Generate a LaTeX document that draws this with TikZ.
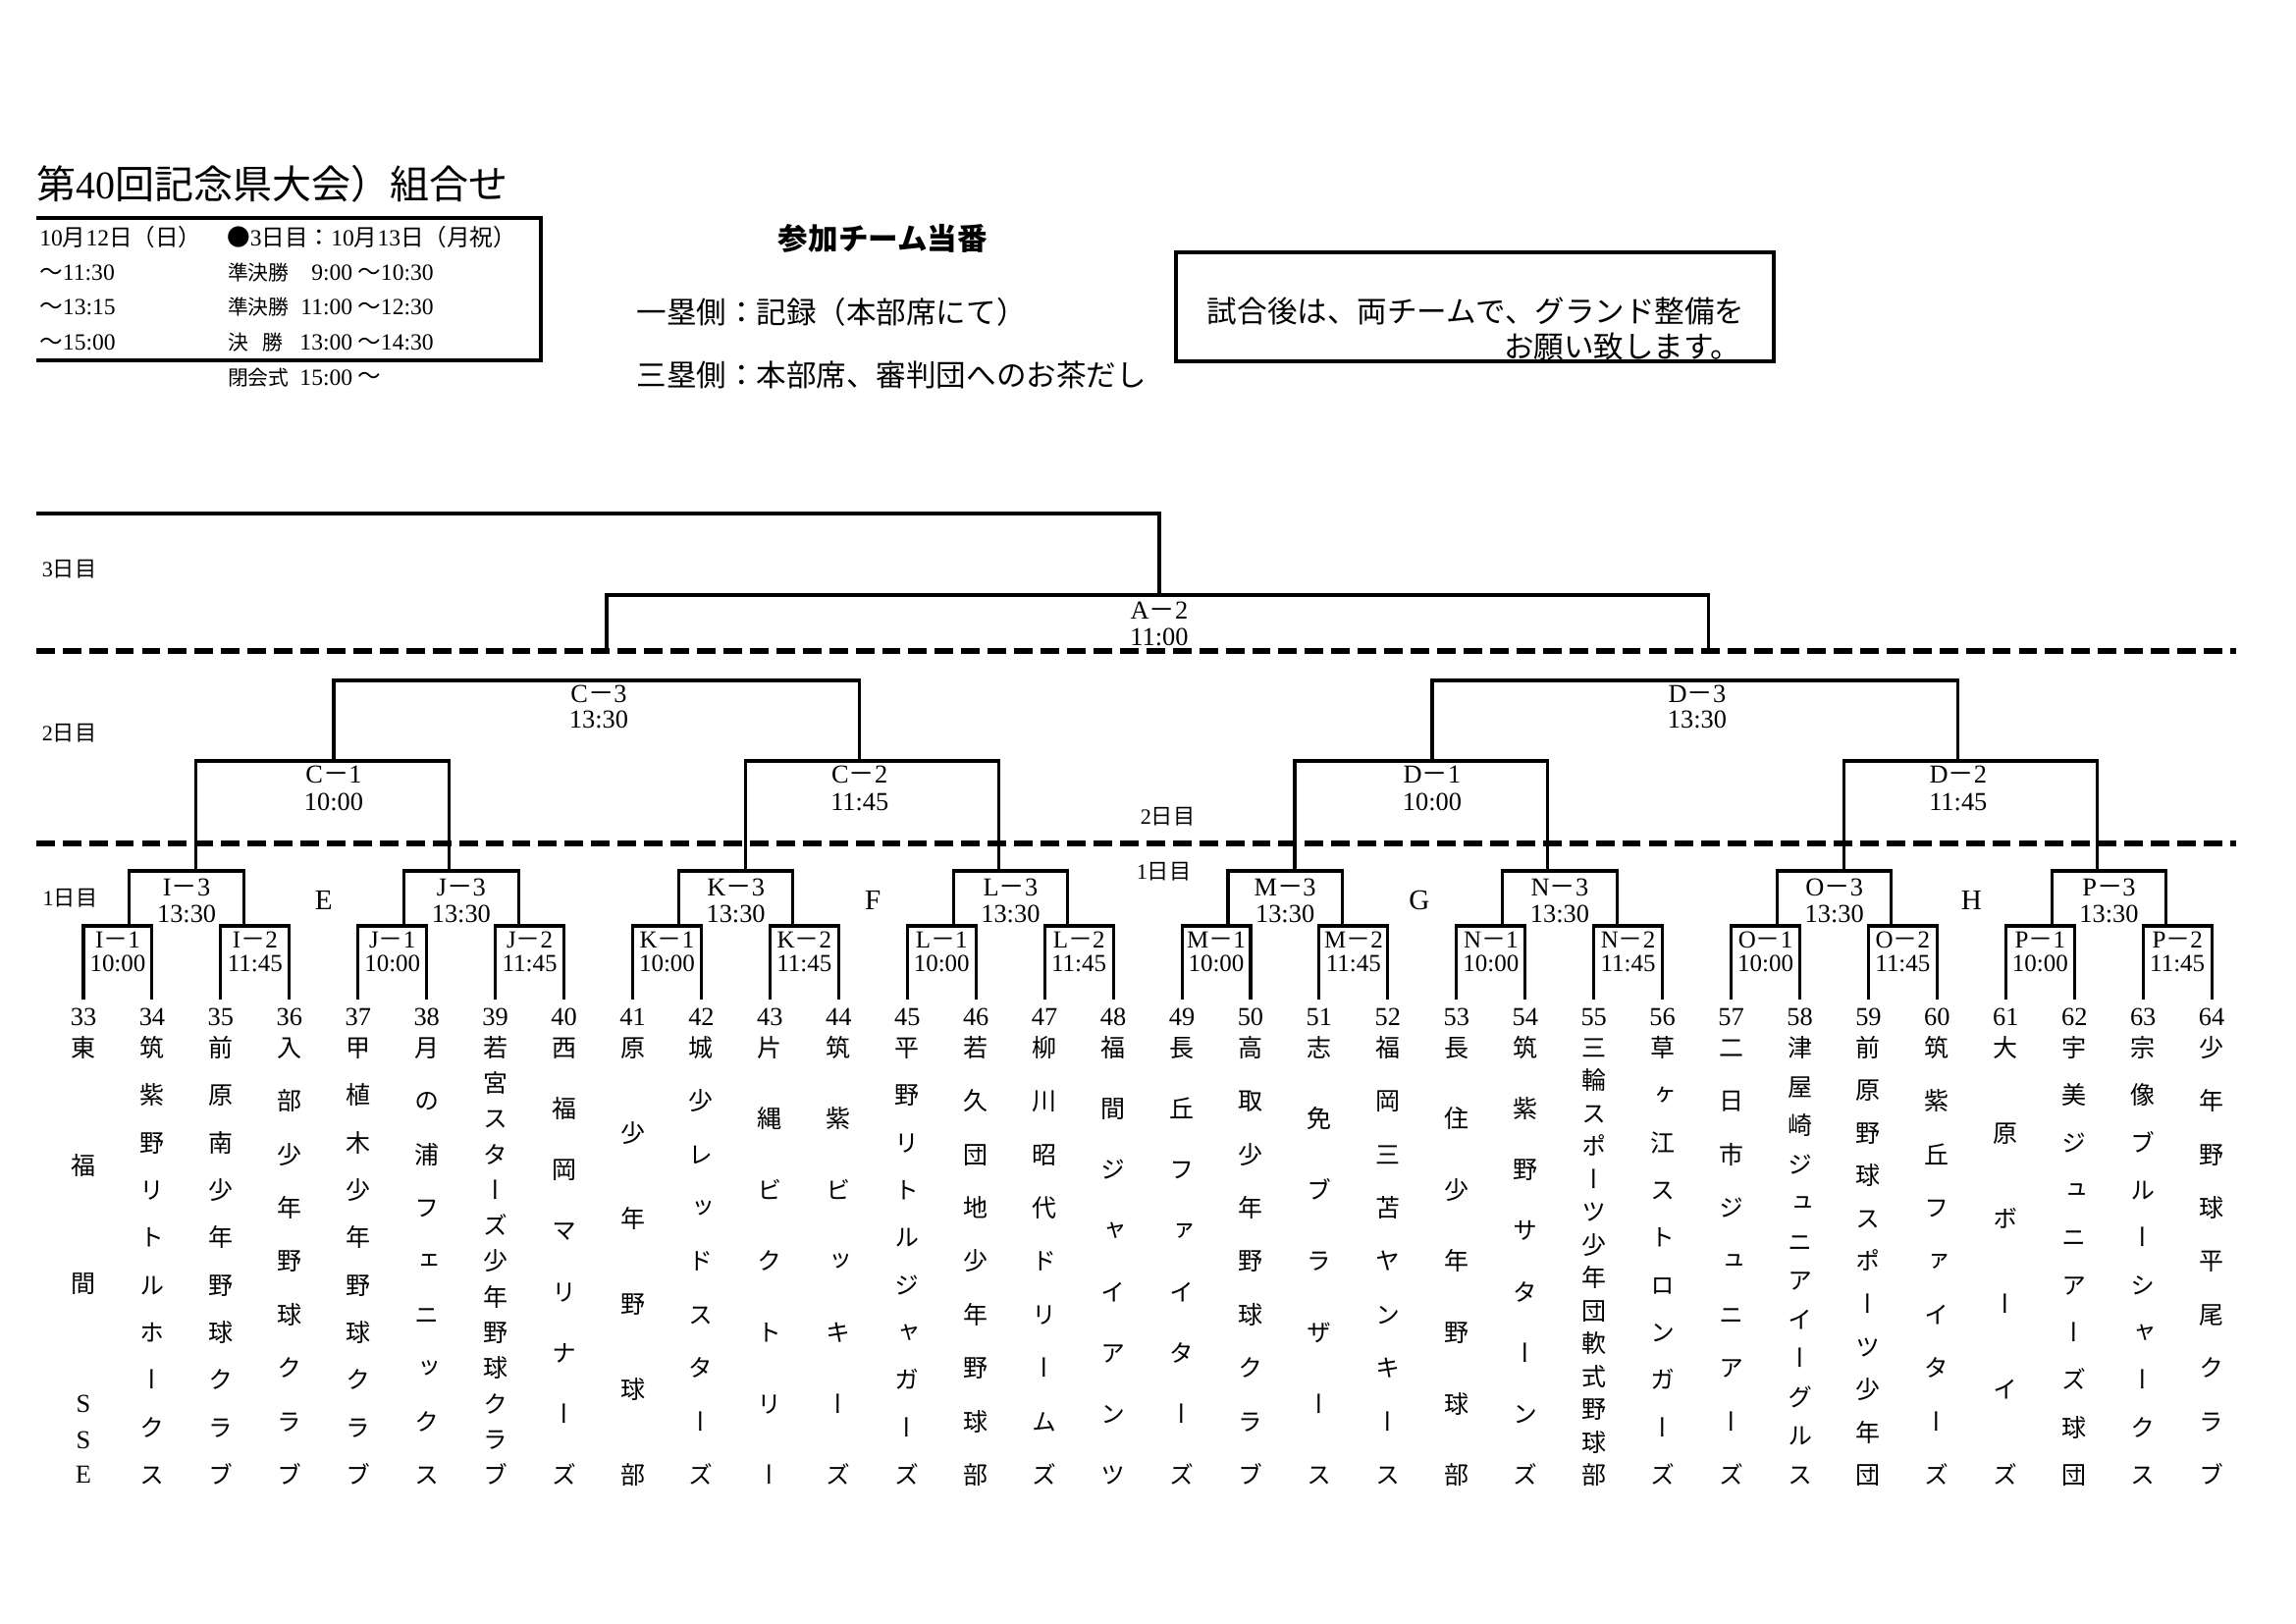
\documentclass[tikz,border=0pt]{standalone}
\usepackage{fontspec}
\setmainfont{Liberation Serif}
\newfontfamily\jp{Noto Sans CJK JP}
\newfontfamily\jpv[RawFeature=+vert]{Noto Sans CJK JP}
\newcommand\fs[1]{\fontsize{#1}{#1}\selectfont}
\newcommand\dash{{\jp －}}
\newcommand\teamname[3]{%
  \foreach \ch [count=\k from 0] in {#3} {
    \node[tchar] (n#1-\k) at ({85+69.94*(#1-33)}, {1067+435*\k/(#2-1)}) {\ch};
  }}
\begin{document}
\begin{tikzpicture}[x=0.3602pt,y=-0.3602pt,
  br/.style={line width=1.1pt},
  sep/.style={line width=1.9pt, dash pattern=on 6.8pt off 2.9pt},
  frame/.style={line width=1.5pt},
  lbl/.style={font=\fs{9.5}, inner sep=0pt},
  rlbl/.style={font=\fs{9}, inner sep=0pt},
  tnum/.style={font=\fs{9.5}, inner sep=0pt},
  dayl/.style={font=\fs{8}, inner sep=0pt},
  grp/.style={font=\fs{10.5}, inner sep=0pt},
  hdr/.style={font=\fs{8.5}, inner sep=0pt},
  hdrs/.style={font=\jp\fs{7.5}, inner sep=0pt},
  mid/.style={font=\jp\fs{11}, inner sep=0pt},
  tchar/.style={font=\jpv\fs{9}, inner sep=0pt, text height=7.92pt, text depth=1.08pt},
  lchar/.style={font=\fs{9.5}, inner sep=0pt}]
\useasboundingbox (0,0) rectangle (2339,1654);
\fill[white] (0,0) rectangle (2339,1654);

% ---------- header ----------
\node[anchor=west, font=\fs{14.4}, inner sep=0pt] (title) at (36.8,187) {{\jp 第}40{\jp 回記念県大会）組合せ}};
\draw[frame] (36.8,222) -- (550.6,222) -- (550.6,367) -- (36.8,367);
\node[hdr, anchor=west] (d1) at (39.8,242) {10{\jp 月}12{\jp 日（日）}};
\node[hdr, anchor=west] (d3) at (230.6,242) {{\jp ●}3{\jp 日目：}10{\jp 月}13{\jp 日（月祝）}};
\node[hdr, anchor=west] (e1) at (39.8,278) {{\jp ～}11:30};
\node[hdr, anchor=west] (e2) at (39.8,313) {{\jp ～}13:15};
\node[hdr, anchor=west] (e3) at (39.8,349) {{\jp ～}15:00};
\node[hdrs, anchor=west] (s1) at (231.6,278) {準決勝};
\node[hdrs, anchor=west] (s2) at (231.6,313) {準決勝};
\node[hdrs, anchor=west] (s3a) at (231.6,349) {決};
\node[hdrs, anchor=east] (s3b) at (289.3,349) {勝};
\node[hdrs, anchor=west] (s4) at (231.6,385) {閉会式};
\node[hdr, anchor=east] (t1) at (359.8,278) {9:00};
\node[hdr, anchor=east] (t2) at (359.8,313) {11:00};
\node[hdr, anchor=east] (t3) at (359.8,349) {13:00};
\node[hdr, anchor=east] (t4) at (359.8,385) {15:00};
\node[hdr, anchor=west] (u1) at (363.8,278) {{\jp ～}10:30};
\node[hdr, anchor=west] (u2) at (363.8,313) {{\jp ～}12:30};
\node[hdr, anchor=west] (u3) at (363.8,349) {{\jp ～}14:30};
\node[hdr, anchor=west] (u4) at (363.8,385) {{\jp ～}};

\node[font=\jp\bfseries\fs{11}, inner sep=0pt] (duty) at (899.4,243) {参加チーム当番};
\node[mid, anchor=west] (first) at (648,318) {一塁側：記録（本部席にて）};
\node[mid, anchor=west] (third) at (648,382) {三塁側：本部席、審判団へのお茶だし};
\draw[frame] (1197.8,257) rectangle (1807,368);
\node[mid, anchor=west] (note1) at (1229.4,317) {試合後は、両チームで、グランド整備を};
\node[mid, anchor=west] (note2) at (1531.5,353) {お願い致します。};

% ---------- day labels and separators ----------
\node[dayl] (day3) at (70.6,580) {3{\jp 日目}};
\node[dayl] (day2) at (70.6,747) {2{\jp 日目}};
\node[dayl] (day1) at (71.5,915) {1{\jp 日目}};
\node[dayl] (day2m) at (1189.6,832) {2{\jp 日目}};
\node[dayl] (day1m) at (1185.6,888) {1{\jp 日目}};
\draw[sep] (36.8,663) -- (2278,663);
\draw[sep] (36.8,859) -- (2278,859);

% ---------- upper bracket ----------
\draw[br] (36.8,523) -| (1181,606);
\draw[br] (618,663) |- (1740.5,606) -- (1740.5,663);
\node[lbl] (a2) at (1181,622) {A\dash 2};
\node[lbl] (a2t) at (1181,649) {11:00};
\draw[br] (340,775) |- (875.8,693) -- (875.8,775);
\draw[br] (1459,775) |- (1994.8,693) -- (1994.8,775);
\node[lbl] (c3) at (610,707) {C\dash 3};
\node[lbl] (c3t) at (610,733) {13:30};
\node[lbl] (d3l) at (1729,707) {D\dash 3};
\node[lbl] (d3t) at (1729,733) {13:30};
\draw[br] (199.9,887) |- (457.7,775) -- (457.7,887);
\draw[br] (759.5,887) |- (1017.2,775) -- (1017.2,887);
\draw[br] (1319,887) |- (1576.7,775) -- (1576.7,887);
\draw[br] (1878.5,887) |- (2136.3,775) -- (2136.3,887);
\node[lbl] (c1) at (340,789) {C\dash 1};
\node[lbl] (c1t) at (340,817) {10:00};
\node[lbl] (c2) at (875.8,789) {C\dash 2};
\node[lbl] (c2t) at (875.8,817) {11:45};
\node[lbl] (d1l) at (1459,789) {D\dash 1};
\node[lbl] (d1t) at (1459,817) {10:00};
\node[lbl] (d2l) at (1994.8,789) {D\dash 2};
\node[lbl] (d2t) at (1994.8,817) {11:45};

% ---------- first day bracket ----------
\foreach \g/\gl in {0/I,1/J,2/K,3/L,4/M,5/N,6/O,7/P} {
  \pgfmathsetmacro\xa{85+279.76*\g}
  \pgfmathsetmacro\xb{\xa+69.94}
  \pgfmathsetmacro\xc{\xa+139.88}
  \pgfmathsetmacro\xd{\xa+209.82}
  \pgfmathsetmacro\lb{\xb-23}
  \pgfmathsetmacro\rb{\xc+23.4}
  \draw[br] (\xa,1018) |- (\xb,943) -- (\xb,1018);
  \draw[br] (\xc,1018) |- (\xd,943) -- (\xd,1018);
  \draw[br] (\lb,943) |- (\rb,887) -- (\rb,943);
  \node[rlbl] (r\gl a) at ({(\xa+\xb)/2},957) {\gl\dash 1};
  \node[rlbl] (r\gl at) at ({(\xa+\xb)/2},981) {10:00};
  \node[rlbl] (r\gl b) at ({(\xc+\xd)/2},957) {\gl\dash 2};
  \node[rlbl] (r\gl bt) at ({(\xc+\xd)/2},981) {11:45};
  \node[lbl] (s\gl) at ({(\lb+\rb)/2},904) {\gl\dash 3};
  \node[lbl] (s\gl t) at ({(\lb+\rb)/2},931) {13:30};
}
\node[grp] (gE) at (329.8,917) {E};
\node[grp] (gF) at (889.3,917) {F};
\node[grp] (gG) at (1446,917) {G};
\node[grp] (gH) at (2008.4,917) {H};

% ---------- team numbers ----------
\foreach \i in {33,...,64} {
  \node[tnum] (num\i) at ({85+69.94*(\i-33)},1036) {\i};
}

% ---------- team names ----------
\node[tchar] (n33-0) at (85,1067) {東};
\node[tchar] (n33-1) at (85,1187) {福};
\node[tchar] (n33-2) at (85,1307) {間};
\node[lchar] (n33-3) at (85,1430) {S};
\node[lchar] (n33-4) at (85,1467) {S};
\node[lchar] (n33-5) at (85,1502) {E};
\teamname{34}{10}{筑,紫,野,リ,ト,ル,ホ,ー,ク,ス}
\teamname{35}{10}{前,原,南,少,年,野,球,ク,ラ,ブ}
\teamname{36}{9}{入,部,少,年,野,球,ク,ラ,ブ}
\teamname{37}{10}{甲,植,木,少,年,野,球,ク,ラ,ブ}
\teamname{38}{9}{月,の,浦,フ,ェ,ニ,ッ,ク,ス}
\teamname{39}{13}{若,宮,ス,タ,ー,ズ,少,年,野,球,ク,ラ,ブ}
\teamname{40}{8}{西,福,岡,マ,リ,ナ,ー,ズ}
\teamname{41}{6}{原,少,年,野,球,部}
\teamname{42}{9}{城,少,レ,ッ,ド,ス,タ,ー,ズ}
\teamname{43}{7}{片,縄,ビ,ク,ト,リ,ー}
\teamname{44}{7}{筑,紫,ビ,ッ,キ,ー,ズ}
\teamname{45}{10}{平,野,リ,ト,ル,ジ,ャ,ガ,ー,ズ}
\teamname{46}{9}{若,久,団,地,少,年,野,球,部}
\teamname{47}{9}{柳,川,昭,代,ド,リ,ー,ム,ズ}
\teamname{48}{8}{福,間,ジ,ャ,イ,ア,ン,ツ}
\teamname{49}{8}{長,丘,フ,ァ,イ,タ,ー,ズ}
\teamname{50}{9}{高,取,少,年,野,球,ク,ラ,ブ}
\teamname{51}{7}{志,免,ブ,ラ,ザ,ー,ス}
\teamname{52}{9}{福,岡,三,苫,ヤ,ン,キ,ー,ス}
\teamname{53}{7}{長,住,少,年,野,球,部}
\teamname{54}{8}{筑,紫,野,サ,タ,ー,ン,ズ}
\teamname{55}{14}{三,輪,ス,ポ,ー,ツ,少,年,団,軟,式,野,球,部}
\teamname{56}{10}{草,ヶ,江,ス,ト,ロ,ン,ガ,ー,ズ}
\teamname{57}{9}{二,日,市,ジ,ュ,ニ,ア,ー,ズ}
\teamname{58}{12}{津,屋,崎,ジ,ュ,ニ,ア,イ,ー,グ,ル,ス}
\teamname{59}{11}{前,原,野,球,ス,ポ,ー,ツ,少,年,団}
\teamname{60}{9}{筑,紫,丘,フ,ァ,イ,タ,ー,ズ}
\teamname{61}{6}{大,原,ボ,ー,イ,ズ}
\teamname{62}{10}{宇,美,ジ,ュ,ニ,ア,ー,ズ,球,団}
\teamname{63}{10}{宗,像,ブ,ル,ー,シ,ャ,ー,ク,ス}
\teamname{64}{9}{少,年,野,球,平,尾,ク,ラ,ブ}
\end{tikzpicture}
\end{document}
